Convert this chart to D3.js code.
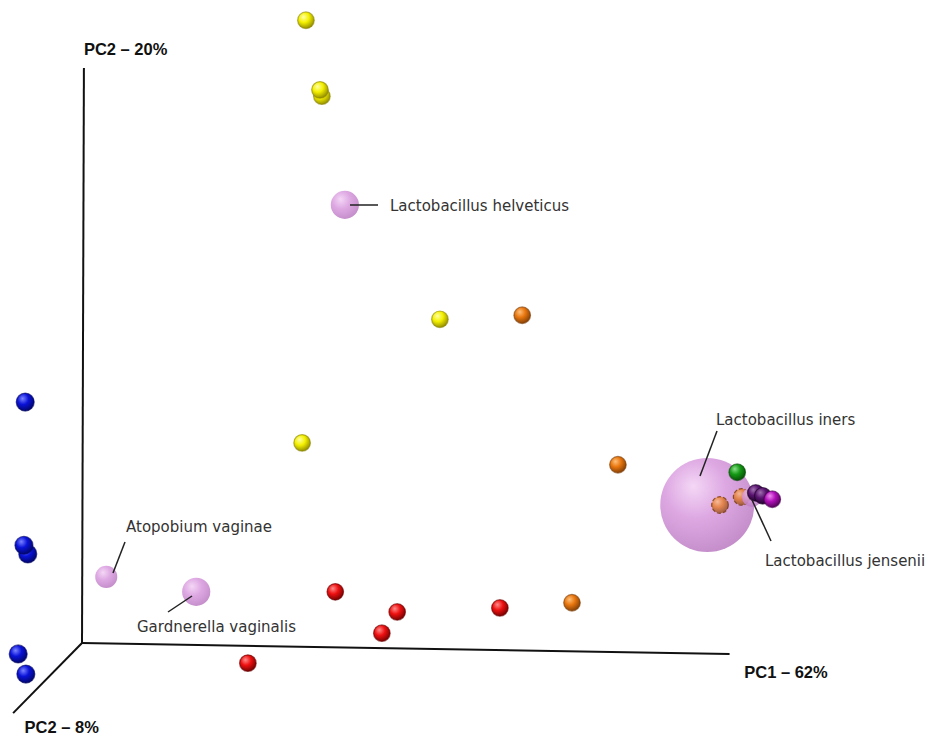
<!DOCTYPE html>
<html>
<head>
<meta charset="utf-8">
<script src="https://cdn.jsdelivr.net/npm/d3@7"></script>
<style>
  body { margin: 0; background: #fff; }
  svg { display: block; }
</style>
</head>
<body>
<div id="chart"></div>
<script>
// Projected ordination coordinates (PC1 along the floor, PC2 up), plus a depth value
const sampleGroup = ["yellow","yellow","yellow","yellow","yellow",
  "orange","orange","orange","orange","orange",
  "red","red","red","red","red",
  "blue","blue","blue","blue","blue",
  "green","purple","purple","magenta"];
const samplePC1 = [35.1, 37.3, 37.6, 56.1, 34.5,
  69.0, 84.0, 76.8, 100.0, 103.4,
  39.7, 49.4, 47.0, 65.5, 26.0,
  -8.9, -9.1, -8.5, -10.0, -8.8,
  102.7, 105.6, 106.7, 108.2];
const samplePC2 = [108.3, 96.2, 95.1, 56.3, 34.8,
  57.0, 31.0, 7.0, 24.0, 25.4,
  8.9, 5.4, 1.7, 6.1, -3.5,
  41.9, 17.0, 15.5, -1.9, -5.4,
  29.7, 26.1, 25.6, 25.0];
const sampleDepth = [1, 2, 1, 1, 1,
  1, 1, 1, 0.5, 0.6,
  1, 1, 1, 1, 1,
  1, 2, 1, 2, 1,
  5, 3, 4, 5];

const taxaNames = ["Lactobacillus helveticus", "Lactobacillus iners", "Lactobacillus jensenii",
  "Atopobium vaginae", "Gardnerella vaginalis"];
const taxaPC1 = [41.2, 98.0, 105.0, 3.8, 17.9];
const taxaPC2 = [76.2, 24.0, 25.4, 11.5, 8.9];
const taxaDepth = [0, 0, 2.5, 0, 0];
const taxaAbundance = [9, 100, 4.5, 5.5, 9];

const axisLabels = ["PC1 – 62%", "PC2 – 20%", "PC2 – 8%"];

const width = 942, height = 741;
const x = d3.scaleLinear().domain([0, 100]).range([82, 720]);
const y = d3.scaleLinear().domain([0, 100]).range([643, 68]);
const r = d3.scaleSqrt().domain([0, 100]).range([0, 47]);

const colors = {
  yellow: ["#ffffa8", "#f4f000", "#8a8400"],
  orange: ["#ffc07a", "#e8760e", "#7a3a05"],
  red: ["#ff8a8a", "#ee1010", "#6a0000"],
  blue: ["#7a84ff", "#0a12d8", "#000560"],
  green: ["#8ae08a", "#159a15", "#054a05"],
  purple: ["#a070b0", "#5a1470", "#1a0025"],
  magenta: ["#f08af0", "#b010b8", "#4a0050"],
  pink: ["#f2d0f4", "#d89ade", "#b878c0"]
};

const svg = d3.select("#chart").append("svg")
  .attr("width", width).attr("height", height)
  .attr("viewBox", [0, 0, width, height]);

const defs = svg.append("defs");
Object.entries(colors).forEach(([k, c]) => {
  const g = defs.append("radialGradient").attr("id", "g-" + k)
    .attr("cx", "40%").attr("cy", "35%").attr("r", "70%").attr("fx", "35%").attr("fy", "30%");
  g.append("stop").attr("offset", "0%").attr("stop-color", c[0]);
  g.append("stop").attr("offset", "45%").attr("stop-color", c[1]);
  g.append("stop").attr("offset", "100%").attr("stop-color", c[2]);
});

// axes
const axes = svg.append("g").attr("stroke", "#111").attr("stroke-width", 2).attr("fill", "none");
axes.append("line").attr("x1", x(0)).attr("y1", y(0)).attr("x2", x(101.5)).attr("y2", y(-1.9));
axes.append("line").attr("x1", x(0)).attr("y1", y(0)).attr("x2", x(0.3)).attr("y2", y(100));
axes.append("line").attr("x1", x(0)).attr("y1", y(0)).attr("x2", x(-10.8)).attr("y2", y(-12.2));

const axText = svg.append("g").attr("font-family", "Liberation Sans, Arial, sans-serif")
  .attr("font-weight", "bold").attr("font-size", 16.5).attr("fill", "#111");
axText.append("text").attr("x", x(103.8)).attr("y", y(-6.1)).text(axisLabels[0]);
axText.append("text").attr("x", x(0.3)).attr("y", y(102.2)).text(axisLabels[1]);
axText.append("text").attr("x", x(-9)).attr("y", y(-15.6)).text(axisLabels[2]);

// spheres, painted back to front
const points = [];
sampleGroup.forEach((g, i) => points.push({
  kind: "sample", group: g, pc1: samplePC1[i], pc2: samplePC2[i], depth: sampleDepth[i], rad: 8.3
}));
taxaNames.forEach((n, i) => points.push({
  kind: "taxon", group: "pink", name: n, pc1: taxaPC1[i], pc2: taxaPC2[i], depth: taxaDepth[i],
  rad: r(taxaAbundance[i])
}));
points.sort((a, b) => a.depth - b.depth);

svg.append("g").selectAll("circle")
  .data(points)
  .join("circle")
  .attr("cx", d => x(d.pc1))
  .attr("cy", d => y(d.pc2))
  .attr("r", d => d.kind === "taxon" ? d.rad : (d.group === "blue" ? 9 : d.rad))
  .attr("fill", d => `url(#g-${d.group})`)
  .attr("fill-opacity", d => d.kind === "taxon" ? 0.85 : (d.depth < 1 ? 0.7 : 1))
  .attr("stroke", d => d.kind === "taxon" ? "none" : colors[d.group][2])
  .attr("stroke-opacity", d => d.depth < 1 ? 0.8 : 0.6)
  .attr("stroke-dasharray", d => d.depth < 1 ? "4 2" : null)
  .attr("stroke-width", 1.2);

// taxon labels with leader lines
const labelLayout = {
  "Lactobacillus helveticus": { from: [350, 205], to: [378, 205], tx: 390, ty: 211 },
  "Lactobacillus iners": { from: [700, 476], to: [717, 431], tx: 716, ty: 425 },
  "Lactobacillus jensenii": { from: [752, 500], to: [771, 541], tx: 765, ty: 566 },
  "Atopobium vaginae": { from: [113, 573], to: [125, 542], tx: 126, ty: 532 },
  "Gardnerella vaginalis": { from: [192, 596], to: [168, 612], tx: 137, ty: 632 }
};
const lab = svg.append("g");
taxaNames.forEach(n => {
  const L = labelLayout[n];
  lab.append("line").attr("x1", L.from[0]).attr("y1", L.from[1]).attr("x2", L.to[0]).attr("y2", L.to[1])
    .attr("stroke", "#222").attr("stroke-width", 1.5);
  lab.append("text").attr("x", L.tx).attr("y", L.ty)
    .attr("font-family", "DejaVu Sans, Verdana, sans-serif").attr("font-size", 15).attr("fill", "#333")
    .text(n);
});
</script>
</body>
</html>
